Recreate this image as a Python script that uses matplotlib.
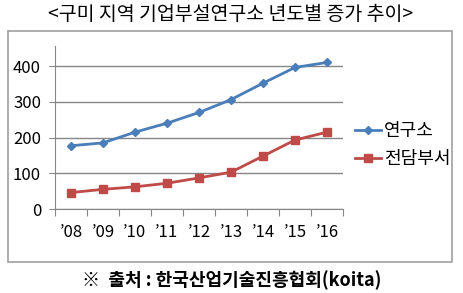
import matplotlib
matplotlib.use("Agg")
import matplotlib.pyplot as plt
from matplotlib.patches import Rectangle

plt.rcParams['font.family'] = ['Noto Sans CJK KR', 'DejaVu Sans']

years = ["’08", "’09", "’10", "’11", "’12", "’13", "’14", "’15", "’16"]
labs = [177, 185, 215, 240, 270, 306, 352, 396, 410]      # 연구소
depts = [46, 55, 62, 72, 87, 103, 148, 193, 215]          # 전담부서
yticks = [0, 100, 200, 300, 400]

W, H = 463, 293
fig = plt.figure(figsize=(W / 100, H / 100), dpi=100)

# outer frame
fig.patches.append(Rectangle((8 / W, 1 - 262 / H), 444 / W, 231 / H,
                             transform=fig.transFigure, fill=False,
                             edgecolor='#a0a0a0', linewidth=1.2))

ax = fig.add_axes([55 / W, 1 - 209 / H, 288 / W, 163 / H])
x = list(range(len(years)))
ax.plot(x, labs, color='#4a7ebb', linewidth=2, marker='D', markersize=4,
        label='연구소')
ax.plot(x, depts, color='#be4b48', linewidth=2, marker='s', markersize=5.5,
        label='전담부서')

ax.set_xlim(-0.5, len(years) - 0.5)
ax.set_ylim(0, 456)
ax.set_yticks(yticks)
ax.set_yticklabels([str(v) for v in yticks], fontsize=12)
ax.yaxis.grid(True, color='#868686', linewidth=1)
ax.set_axisbelow(True)
ax.tick_params(axis='y', length=4, color='#868686', pad=6)

ax.set_xticks([i + 0.5 for i in range(-1, len(years))])
ax.set_xticklabels([])
ax.set_xticks(x, minor=True)
ax.set_xticklabels(years, minor=True, fontsize=12)
ax.tick_params(axis='x', which='major', length=5, color='#868686')
ax.tick_params(axis='x', which='minor', length=0, pad=11)

for s in ['top', 'right']:
    ax.spines[s].set_visible(False)
for s in ['left', 'bottom']:
    ax.spines[s].set_color('#868686')

fig.legend(loc='upper left', bbox_to_anchor=(348 / W, 1 - 115 / H),
           frameon=False, fontsize=13, handlelength=1.4, handletextpad=0.2,
           labelspacing=0.55, borderaxespad=0)

fig.text(0.497, 1 - 14 / H, '<구미 지역 기업부설연구소 년도별 증가 추이>',
         ha='center', va='center', fontsize=14)
fig.text(0.5, 1 - 280 / H, '※  출처 : 한국산업기술진흥협회(koita)',
         ha='center', va='center', fontsize=13, fontweight='bold')

fig.savefig('out.png', dpi=100)
